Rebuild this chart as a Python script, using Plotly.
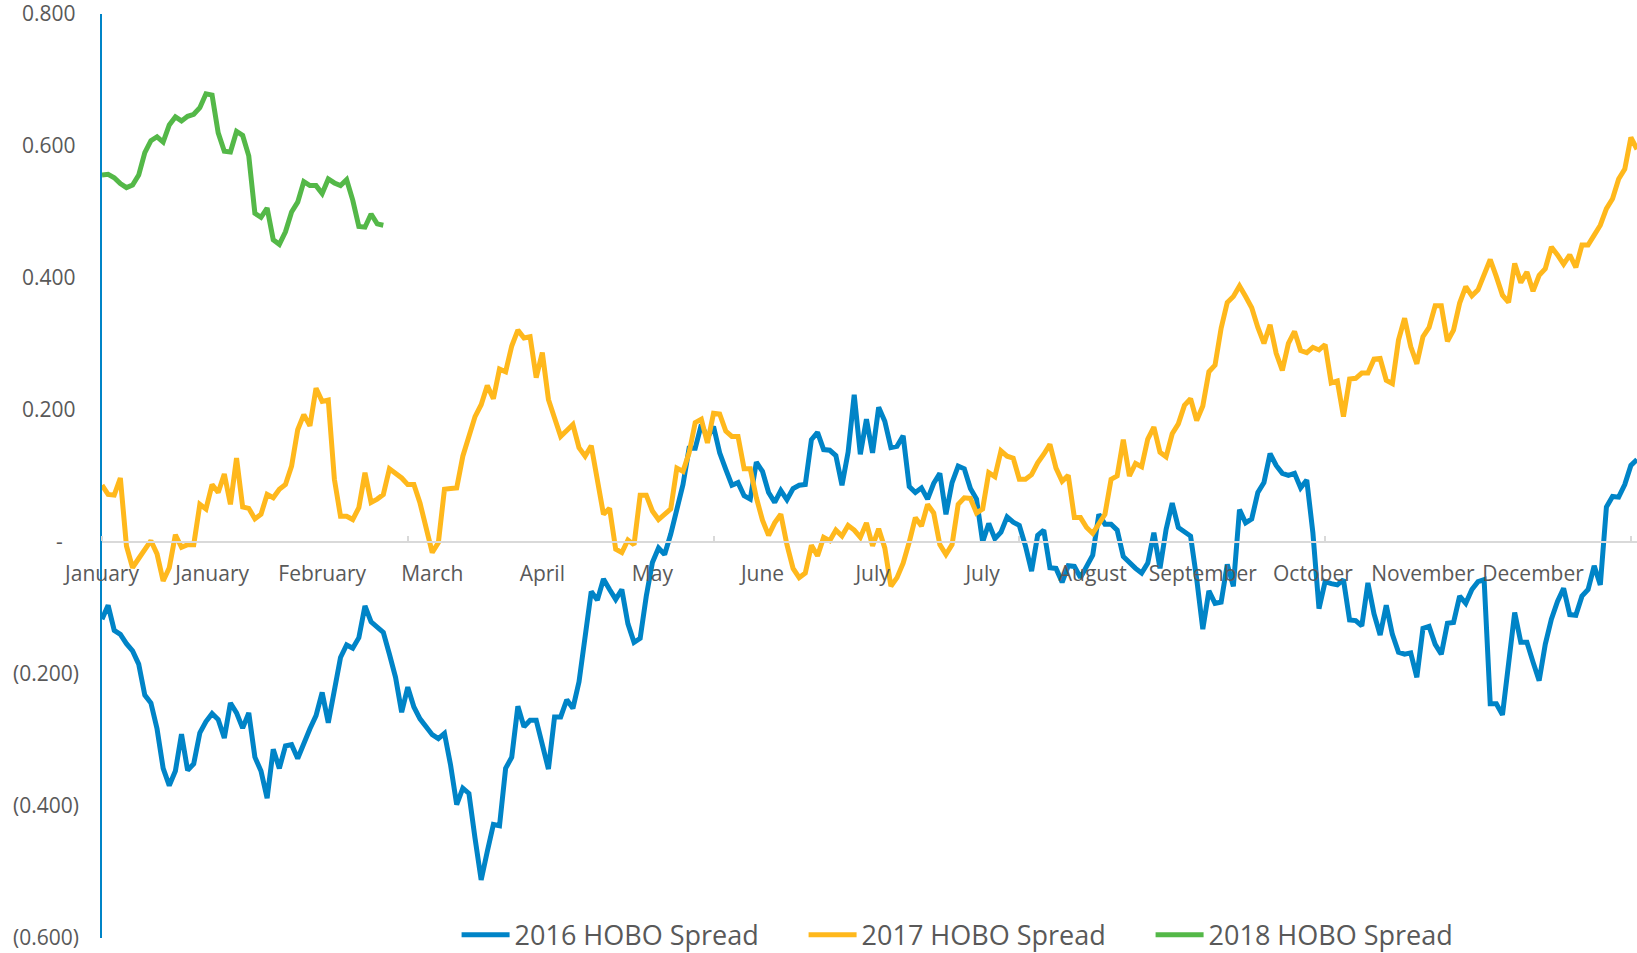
import plotly.graph_objects as go

series_names = ["2016 HOBO Spread", "2017 HOBO Spread", "2018 HOBO Spread"]
series_colors = ["#0084C7", "#FFB81C", "#54B848"]

spread_2016 = [
    -0.117, -0.096, -0.134, -0.140, -0.154, -0.165, -0.185, -0.232, -0.244, -0.283,
    -0.343, -0.369, -0.347, -0.291, -0.346, -0.336, -0.289, -0.272, -0.260, -0.269,
    -0.297, -0.244, -0.259, -0.282, -0.259, -0.326, -0.347, -0.388, -0.314, -0.343,
    -0.309, -0.307, -0.328, -0.304, -0.283, -0.263, -0.228, -0.274, -0.224, -0.175,
    -0.156, -0.161, -0.145, -0.097, -0.121, -0.128, -0.137, -0.170, -0.205, -0.258,
    -0.220, -0.250, -0.268, -0.280, -0.292, -0.298, -0.290, -0.338, -0.398, -0.373,
    -0.381, -0.449, -0.512, -0.469, -0.428, -0.430, -0.343, -0.326, -0.249, -0.280,
    -0.270, -0.270, -0.311, -0.344, -0.265, -0.265, -0.239, -0.252, -0.212, -0.145,
    -0.075, -0.088, -0.056, -0.072, -0.087, -0.072, -0.124, -0.152, -0.146, -0.082,
    -0.031, -0.009, -0.019, 0.012, 0.049, 0.087, 0.142, 0.142, 0.178, 0.158,
    0.175, 0.135, 0.110, 0.086, 0.090, 0.070, 0.065, 0.121, 0.107, 0.075,
    0.060, 0.078, 0.064, 0.081, 0.086, 0.087, 0.155, 0.166, 0.140, 0.139,
    0.131, 0.086, 0.136, 0.223, 0.133, 0.186, 0.135, 0.204, 0.183, 0.143,
    0.145, 0.161, 0.084, 0.075, 0.082, 0.065, 0.089, 0.104, 0.042, 0.090,
    0.115, 0.111, 0.081, 0.065, 0.000, 0.028, 0.005, 0.015, 0.038, 0.030,
    0.025, -0.006, -0.044, 0.010, 0.018, -0.039, -0.040, -0.061, -0.036, -0.037,
    -0.054, -0.037, -0.020, 0.042, 0.027, 0.027, 0.018, -0.022, -0.032, -0.040,
    -0.047, -0.032, 0.014, -0.040, 0.019, 0.059, 0.022, 0.015, 0.009, -0.056,
    -0.132, -0.074, -0.093, -0.091, -0.034, -0.067, 0.049, 0.029, 0.035, 0.075,
    0.090, 0.134, 0.116, 0.104, 0.101, 0.104, 0.082, 0.094, 0.014, -0.101,
    -0.060, -0.063, -0.065, -0.057, -0.118, -0.119, -0.127, -0.062, -0.109, -0.141,
    -0.096, -0.140, -0.167, -0.170, -0.168, -0.205, -0.131, -0.128, -0.155, -0.170,
    -0.123, -0.122, -0.082, -0.093, -0.072, -0.060, -0.057, -0.245, -0.245, -0.262,
    -0.180, -0.107, -0.152, -0.152, -0.182, -0.210, -0.155, -0.117, -0.090, -0.070,
    -0.110, -0.111, -0.082, -0.072, -0.036, -0.065, 0.053, 0.069, 0.068, 0.087,
    0.116, 0.125,
]

spread_2017 = [
    0.086, 0.072, 0.071, 0.097, -0.006, -0.039, -0.025, -0.011, 0.002, -0.018,
    -0.059, -0.039, 0.011, -0.008, -0.004, -0.004, 0.057, 0.050, 0.087, 0.075,
    0.103, 0.057, 0.127, 0.053, 0.051, 0.035, 0.042, 0.072, 0.067, 0.080,
    0.087, 0.115, 0.170, 0.193, 0.176, 0.233, 0.213, 0.215, 0.095, 0.039,
    0.039, 0.034, 0.052, 0.105, 0.060, 0.065, 0.072, 0.111, 0.105, 0.097,
    0.087, 0.087, 0.059, 0.019, -0.016, -0.001, 0.080, 0.081, 0.082, 0.130,
    0.160, 0.190, 0.208, 0.237, 0.217, 0.262, 0.258, 0.297, 0.321, 0.309,
    0.311, 0.249, 0.287, 0.216, 0.188, 0.160, 0.169, 0.178, 0.143, 0.130,
    0.146, 0.097, 0.042, 0.051, -0.011, -0.016, 0.003, -0.004, 0.071, 0.071,
    0.047, 0.034, 0.042, 0.050, 0.112, 0.107, 0.135, 0.181, 0.186, 0.150,
    0.195, 0.194, 0.168, 0.160, 0.160, 0.111, 0.111, 0.067, 0.033, 0.010,
    0.029, 0.042, -0.004, -0.040, -0.054, -0.047, -0.005, -0.021, 0.007, 0.002,
    0.018, 0.009, 0.025, 0.018, 0.007, 0.029, -0.006, 0.020, -0.009, -0.067,
    -0.054, -0.032, 0.000, 0.037, 0.024, 0.057, 0.044, -0.004, -0.019, -0.004,
    0.057, 0.067, 0.066, 0.044, 0.050, 0.105, 0.099, 0.138, 0.130, 0.127,
    0.095, 0.095, 0.102, 0.120, 0.133, 0.148, 0.112, 0.092, 0.101, 0.037,
    0.037, 0.022, 0.013, 0.027, 0.042, 0.095, 0.100, 0.155, 0.100, 0.119,
    0.114, 0.156, 0.174, 0.136, 0.129, 0.164, 0.179, 0.207, 0.217, 0.184,
    0.206, 0.258, 0.268, 0.324, 0.363, 0.372, 0.388, 0.372, 0.355, 0.325,
    0.301, 0.329, 0.286, 0.260, 0.301, 0.319, 0.290, 0.287, 0.295, 0.291,
    0.299, 0.241, 0.244, 0.190, 0.247, 0.248, 0.256, 0.256, 0.277, 0.278,
    0.245, 0.240, 0.306, 0.339, 0.296, 0.270, 0.311, 0.325, 0.358, 0.358,
    0.304, 0.321, 0.362, 0.387, 0.373, 0.382, 0.407, 0.428, 0.402, 0.374,
    0.363, 0.422, 0.393, 0.409, 0.380, 0.404, 0.414, 0.447, 0.435, 0.421,
    0.435, 0.416, 0.450, 0.450, 0.465, 0.480, 0.505, 0.520, 0.550, 0.565,
    0.613, 0.595,
]

spread_2018 = [
    0.556, 0.557, 0.552, 0.543, 0.537, 0.541, 0.556, 0.590, 0.608, 0.614,
    0.606, 0.632, 0.644, 0.638, 0.645, 0.648, 0.658, 0.679, 0.677, 0.620,
    0.592, 0.591, 0.622, 0.616, 0.585, 0.498, 0.492, 0.506, 0.458, 0.451,
    0.470, 0.500, 0.515, 0.546, 0.540, 0.540, 0.528, 0.550, 0.544, 0.540,
    0.549, 0.518, 0.478, 0.477, 0.497, 0.482, 0.480,
]

month_labels = ["January", "January", "February", "March", "April", "May", "June",
                "July", "July", "August", "September", "October", "November", "December"]
label_step = 18
tick_mark_step = 50

y_tick_values = [0.8, 0.6, 0.4, 0.2, 0.0, -0.2, -0.4, -0.6]
NB = "\u00a0"
TH = "\u2009"
y_tick_text = ["0.800" + TH, "0.600" + TH, "0.400" + TH, "0.200" + TH, "-" + NB * 3,
               "(0.200)", "(0.400)", "(0.600)"]

n_cat = len(spread_2016)
label_positions = [i * label_step for i in range(len(month_labels))]
mark_positions = list(range(0, n_cat, tick_mark_step))

fig = go.Figure()
for name, color, vals in zip(series_names, series_colors, [spread_2016, spread_2017, spread_2018]):
    fig.add_trace(go.Scatter(
        x=list(range(len(vals))), y=vals, mode="lines", name=name,
        line=dict(color=color, width=5, shape="linear"),
    ))

gray = "#595959"
fig.update_layout(
    width=1637, height=953,
    margin=dict(l=102, r=0, t=14, b=15, autoexpand=False),
    paper_bgcolor="white", plot_bgcolor="white",
    font=dict(family="Open Sans", color=gray, size=21),
    showlegend=True,
    legend=dict(
        orientation="h", x=0.231, xanchor="left", y=0.003, yanchor="middle",
        font=dict(size=27, color=gray), entrywidth=284, entrywidthmode="pixels",
        itemwidth=48, bgcolor="rgba(0,0,0,0)",
    ),
    xaxis=dict(
        range=[0, n_cat - 1], anchor="free", position=0.6 / 1.4,
        showline=True, linecolor="#d9d9d9", linewidth=1.5,
        showgrid=False, zeroline=False, automargin=False,
        tickmode="array", tickvals=label_positions, ticktext=month_labels,
        ticks="", tickfont=dict(size=21, color=gray), ticklabelstandoff=13,
        minor=dict(tickmode="array", tickvals=mark_positions, ticks="inside",
                   ticklen=5, tickcolor="#d9d9d9", tickwidth=1.5, showgrid=False),
    ),
    yaxis=dict(
        range=[-0.6, 0.8], showline=True, linecolor="#0084C7", linewidth=1.5,
        showgrid=False, zeroline=False, automargin=False,
        tickmode="array", tickvals=y_tick_values, ticktext=y_tick_text,
        ticks="", tickfont=dict(size=21, color=gray), ticklabelstandoff=17,
        ticklabeloverflow="allow",
    ),
)

fig.write_html("out.html", config={"displayModeBar": False},
               post_script="document.body.style.margin='0px';")
